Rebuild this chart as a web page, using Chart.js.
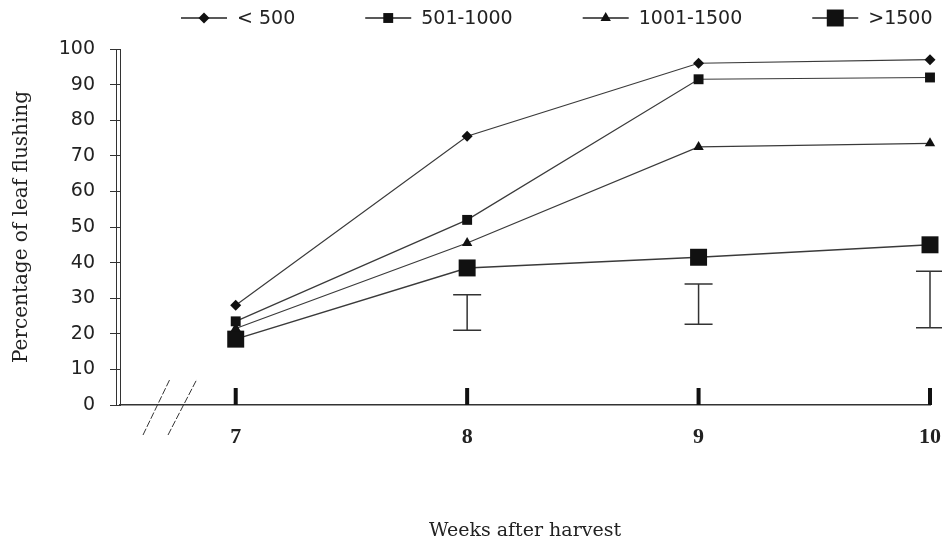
<!DOCTYPE html>
<html>
<head>
<meta charset="utf-8">
<script src="https://cdn.jsdelivr.net/npm/chart.js@4/dist/chart.umd.min.js"></script>
<style>
  body { margin: 0; background: #fff; }
  #myChart { display: block; }
</style>
</head>
<body>
<canvas id="myChart" width="942" height="544"></canvas>
<script>
// data
let weeks = [7, 8, 9, 10];
let seriesLabels = ['< 500', '501-1000', '1001-1500', '>1500'];
let below500 = [28, 75.5, 96, 97];
let from501 = [23.5, 52, 91.5, 92];
let from1001 = [21.5, 45.5, 72.5, 73.5];
let above1500 = [18.5, 38.5, 41.5, 45];
let errWeeks = [8, 9, 10];
let errLow = [21, 22.7, 21.7];
let errHigh = [31, 34, 37.6];
let yTicks = [0, 10, 20, 30, 40, 50, 60, 70, 80, 90, 100];

let ink = '#222';

let makeSet = (label, values, style, radius, width) => ({
    label: label,
    data: values.map((v, i) => ({ x: weeks[i], y: v })),
    borderColor: '#3a3a3a',
    borderWidth: width,
    backgroundColor: '#111',
    pointBackgroundColor: '#111',
    pointBorderWidth: 0,
    pointStyle: style,
    pointRadius: radius,
    pointHoverRadius: radius,
    tension: 0,
    clip: false
});

let myData = {
    datasets: [
        makeSet(seriesLabels[0], below500, 'rectRot', 5.5, 1.2),
        makeSet(seriesLabels[1], from501, 'rect', 7, 1.2),
        makeSet(seriesLabels[2], from1001, 'triangle', 6, 1.2),
        makeSet(seriesLabels[3], above1500, 'rect', 12, 1.5)
    ]
};

function marker(ctx, style, r, x, y) {
    if (Chart.helpers && Chart.helpers.drawPoint) {
        Chart.helpers.drawPoint(ctx, { pointStyle: style, radius: r, borderWidth: 0, rotation: 0 }, x, y);
        return;
    }
    ctx.beginPath();
    if (style === 'rectRot') {
        ctx.moveTo(x - r, y); ctx.lineTo(x, y - r); ctx.lineTo(x + r, y); ctx.lineTo(x, y + r);
    } else if (style === 'triangle') {
        ctx.moveTo(x, y - r); ctx.lineTo(x + r * 0.866, y + r / 2); ctx.lineTo(x - r * 0.866, y + r / 2);
    } else {
        let s = r * Math.SQRT1_2;
        ctx.rect(x - s, y - s, 2 * s, 2 * s);
    }
    ctx.closePath();
    ctx.fill();
}

// error bars, upward week ticks, axis break, double y axis and the legend row
const extras = {
    id: 'extras',
    afterDraw(chart) {
        const ctx = chart.ctx;
        const xs = chart.scales.x;
        const ys = chart.scales.y;
        const area = chart.chartArea;
        ctx.save();

        // second line of the y axis
        ctx.strokeStyle = '#333';
        ctx.lineWidth = 1;
        ctx.beginPath();
        ctx.moveTo(area.left - 3.5, area.top);
        ctx.lineTo(area.left - 3.5, area.bottom);
        ctx.stroke();

        // thick tick marks pointing up from the x axis
        ctx.fillStyle = '#111';
        weeks.forEach(w => {
            let px = xs.getPixelForValue(w);
            ctx.fillRect(px - 2, area.bottom - 17, 4, 17);
        });

        // axis break slashes
        ctx.setLineDash([7, 2]);
        ctx.lineWidth = 1;
        ctx.strokeStyle = '#333';
        [[23, 50], [48, 77]].forEach(p => {
            ctx.beginPath();
            ctx.moveTo(area.left + p[0], area.bottom + 30);
            ctx.lineTo(area.left + p[1], area.bottom - 26);
            ctx.stroke();
        });
        ctx.setLineDash([]);

        // error bars
        ctx.strokeStyle = '#333';
        ctx.lineWidth = 1.5;
        errWeeks.forEach((w, i) => {
            let px = xs.getPixelForValue(w);
            let top = ys.getPixelForValue(errHigh[i]);
            let bot = ys.getPixelForValue(errLow[i]);
            ctx.beginPath();
            ctx.moveTo(px, top); ctx.lineTo(px, bot);
            ctx.moveTo(px - 14, top); ctx.lineTo(px + 14, top);
            ctx.moveTo(px - 14, bot); ctx.lineTo(px + 14, bot);
            ctx.stroke();
        });

        // legend
        let lx = 181;
        let ly = 18;
        ctx.font = '19px "DejaVu Sans"';
        ctx.textBaseline = 'middle';
        ctx.textAlign = 'left';
        chart.data.datasets.forEach(ds => {
            ctx.strokeStyle = '#222';
            ctx.lineWidth = 1.5;
            ctx.beginPath();
            ctx.moveTo(lx, ly); ctx.lineTo(lx + 46, ly);
            ctx.stroke();
            ctx.fillStyle = '#111';
            marker(ctx, ds.pointStyle, ds.pointRadius, lx + 23, ly);
            ctx.fillStyle = ink;
            ctx.fillText(ds.label, lx + 56, ly + 1);
            lx += 56 + ctx.measureText(ds.label).width + 70;
        });
        ctx.restore();
    }
};

let myOption = {
    responsive: false,
    animation: false,
    layout: {
        padding: { top: 49, right: 10.5, left: 0, bottom: 0 }
    },
    plugins: {
        legend: { display: false },
        tooltip: { enabled: false }
    },
    scales: {
        x: {
            type: 'linear',
            min: 6.5,
            max: 10,
            afterBuildTicks: axis => {
                axis.ticks = weeks.map(v => ({ value: v }));
            },
            afterFit: scale => {
                scale.height = 139;
                scale.paddingLeft = 0;
                scale.paddingRight = 0;
            },
            grid: { display: false, drawTicks: false },
            border: { display: true, color: '#333', width: 1.5 },
            ticks: {
                color: ink,
                padding: 19,
                font: { family: 'Liberation Serif', size: 22, weight: 'bold' },
                callback: v => String(v)
            },
            title: {
                display: true,
                text: 'Weeks after harvest',
                color: ink,
                font: { family: 'DejaVu Serif', size: 19 },
                padding: { top: 0, bottom: 2 }
            }
        },
        y: {
            min: 0,
            max: 100,
            afterBuildTicks: axis => {
                axis.ticks = yTicks.map(v => ({ value: v }));
            },
            afterFit: scale => { scale.width = 120; },
            grid: { drawOnChartArea: false, tickLength: 10, color: '#333', lineWidth: 1 },
            border: { display: true, color: '#333', width: 1 },
            ticks: {
                color: ink,
                padding: 15,
                font: { family: 'DejaVu Sans', size: 19 }
            },
            title: {
                display: true,
                text: 'Percentage of leaf flushing',
                color: ink,
                font: { family: 'DejaVu Serif', size: 20 },
                padding: { top: 10, bottom: 0 }
            }
        }
    }
};

let ctx = document.getElementById('myChart').getContext('2d');
let myChart = new Chart(ctx, {
    type: 'line',
    data: myData,
    options: myOption,
    plugins: [extras]
});
</script>
</body>
</html>
